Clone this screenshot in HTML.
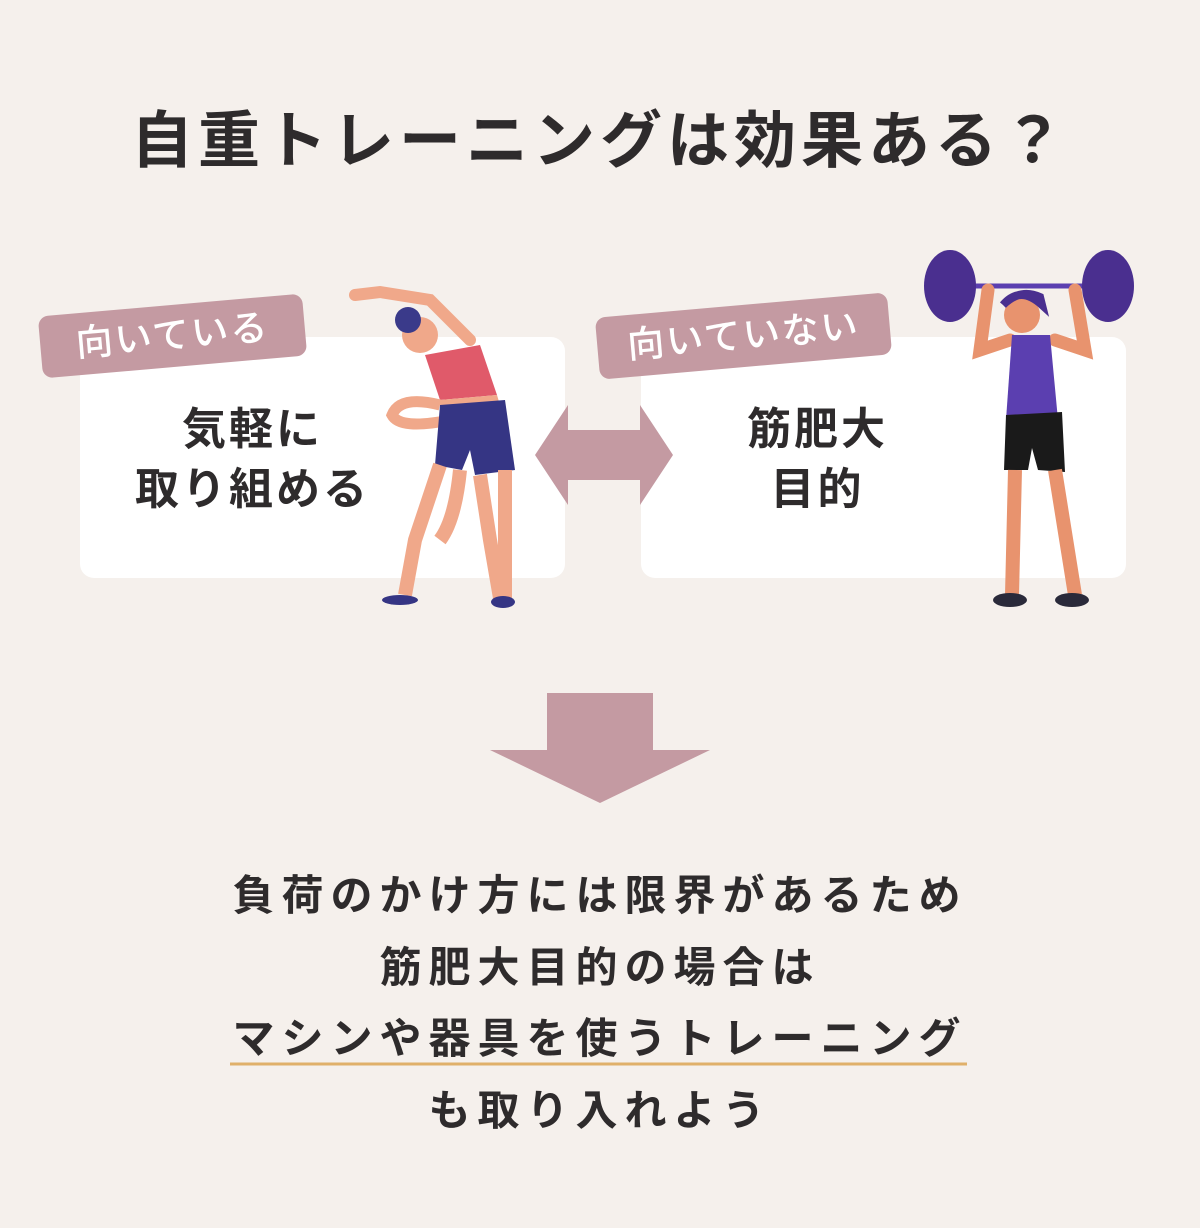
<!DOCTYPE html>
<html><head><meta charset="utf-8"><style>
body{margin:0;width:1200px;height:1228px;background:#f5f0ec;position:relative;overflow:hidden;font-family:"Liberation Sans","Noto Sans CJK JP",sans-serif;color:#2e2b2c;font-weight:bold}
.t{position:absolute;left:0;width:1200px;text-align:center}
.box{position:absolute;background:#fff;border-radius:14px;top:337px;height:241px}
.tag{position:absolute;background:#c49aa2;color:#fff;border-radius:10px;font-size:37px;font-weight:500;transform:rotate(-5deg);text-align:center;line-height:62px;height:62px;letter-spacing:2px}
.bt{position:absolute;font-size:44px;font-weight:bold;text-align:center;line-height:60px;letter-spacing:3px}
.l{font-size:42px;letter-spacing:7px}
</style></head><body>
<div class="t" style="top:90px;font-size:62px;letter-spacing:5px">自重トレーニングは効果ある？</div>
<div class="box" style="left:80px;width:485px"></div>
<div class="box" style="left:641px;width:485px"></div>
<div class="tag" style="left:40px;top:305px;width:265px">向いている</div>
<div class="tag" style="left:597px;top:305px;width:293px">向いていない</div>
<div class="bt" style="left:80px;width:345px;top:400px">気軽に<br>取り組める</div>
<div class="bt" style="left:645px;width:345px;top:400px">筋肥大<br>目的</div>
<svg width="1200" height="1228" style="position:absolute;left:0;top:0">
<polygon points="535,455 568,405 568,430 640,430 640,405 673,455 640,505 640,480 568,480 568,505" fill="#c49aa2"/>
<polygon points="547,693 653,693 653,750 710,750 600,803 490,750 547,750" fill="#c49aa2"/>
<line x1="230" y1="1064" x2="967" y2="1064" stroke="#e0b06a" stroke-width="3"/>
<path d="M355,295 L380,292 L430,300 L470,340" stroke="#f0a88a" stroke-width="12" fill="none" stroke-linecap="round"/>
<circle cx="420" cy="335" r="18" fill="#f0a88a"/>
<circle cx="408" cy="320" r="13" fill="#3a3a8a"/>
<path d="M425,355 L480,345 L497,395 L440,400 Z" fill="#e05a6a"/>
<path d="M440,400 L497,395 L500,405 L440,410Z" fill="#f0a88a"/>
<path d="M440,405 Q400,395 392,415 Q400,430 450,420" stroke="#f0a88a" stroke-width="11" fill="none"/>
<path d="M440,405 L505,400 L515,470 L475,475 L470,450 L462,470 L435,465 Z" fill="#353584"/>
<path d="M440,465 L415,540 L405,595 M460,470 Q455,520 440,540 M480,475 L490,540 L500,598 M505,470 L505,598" stroke="#f0a88a" stroke-width="14" fill="none"/>
<ellipse cx="400" cy="600" rx="18" ry="5" fill="#353584"/>
<ellipse cx="503" cy="602" rx="12" ry="6" fill="#353584"/>
<line x1="945" y1="286" x2="1110" y2="286" stroke="#5b3fb0" stroke-width="5"/>
<ellipse cx="950" cy="286" rx="26" ry="36" fill="#4a2f8f"/>
<ellipse cx="1108" cy="286" rx="26" ry="36" fill="#4a2f8f"/>
<path d="M988,290 L980,350 L1010,340 M1075,290 L1085,350 L1055,340" stroke="#e8936e" stroke-width="13" fill="none" stroke-linecap="round"/>
<circle cx="1022" cy="315" r="18" fill="#e8936e"/>
<path d="M1003,305 Q1020,285 1042,305 L1040,297 Q1020,288 1003,305" fill="#4a2f8f" stroke="#4a2f8f" stroke-width="8"/>
<path d="M1012,335 L1050,335 L1058,420 L1006,420 Z" fill="#5b3fb0"/>
<path d="M1006,415 L1062,412 L1065,472 L1038,470 L1032,448 L1028,470 L1004,470 Z" fill="#1a1a1a"/>
<path d="M1015,470 L1012,595 M1055,470 L1075,595" stroke="#e8936e" stroke-width="14" fill="none"/>
<ellipse cx="1010" cy="600" rx="17" ry="7" fill="#2a2a3a"/>
<ellipse cx="1072" cy="600" rx="17" ry="7" fill="#2a2a3a"/>
</svg>
<div class="t l" style="top:862px">負荷のかけ方には限界があるため</div>
<div class="t l" style="top:934px">筋肥大目的の場合は</div>
<div class="t l" style="top:1005px">マシンや器具を使うトレーニング</div>
<div class="t l" style="top:1077px">も取り入れよう</div>
</body></html>
